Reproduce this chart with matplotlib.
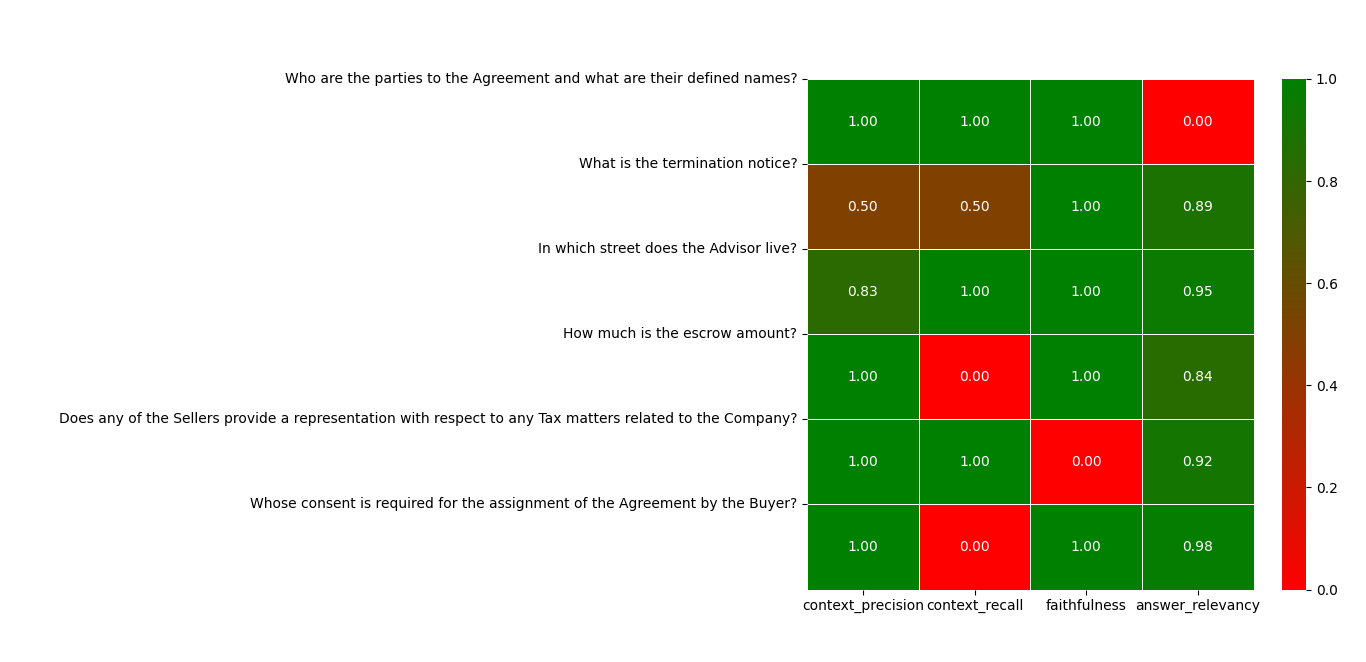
import matplotlib
matplotlib.use("Agg")
import matplotlib.pyplot as plt
import numpy as np
import seaborn as sns
from matplotlib.colors import LinearSegmentedColormap

questions = [
    "Who are the parties to the Agreement and what are their defined names?",
    "What is the termination notice?",
    "In which street does the Advisor live?",
    "How much is the escrow amount?",
    "Does any of the Sellers provide a representation with respect to any Tax matters related to the Company?",
    "Whose consent is required for the assignment of the Agreement by the Buyer?",
]
metrics = ["context_precision", "context_recall", "faithfulness", "answer_relevancy"]

context_precision = [1.00, 0.50, 0.83, 1.00, 1.00, 1.00]
context_recall = [1.00, 0.50, 1.00, 0.00, 1.00, 0.00]
faithfulness = [1.00, 1.00, 1.00, 1.00, 0.00, 1.00]
answer_relevancy = [0.00, 0.89, 0.95, 0.84, 0.92, 0.98]

data = np.array([context_precision, context_recall, faithfulness, answer_relevancy]).T

cmap = LinearSegmentedColormap.from_list("rg", ["red", "green"])

fig = plt.figure(figsize=(13.66, 6.62), dpi=100)
ax = fig.add_axes([0.5908, 0.1095, 0.3270, 0.7712])
cax = fig.add_axes([0.9385, 0.1095, 0.0176, 0.7712])

sns.heatmap(data, annot=True, fmt=".2f", cmap=cmap, vmin=0, vmax=1,
            linewidths=0.5, linecolor="white", ax=ax, cbar_ax=cax,
            annot_kws={"color": "white"})

ax.set_xticks(np.arange(len(metrics)) + 0.5)
ax.set_xticklabels(metrics, rotation=0)
ax.set_yticks(np.arange(len(questions)))
ax.set_yticklabels(questions, rotation=0)

fig.savefig("out.png", dpi=100)
plt.close(fig)
